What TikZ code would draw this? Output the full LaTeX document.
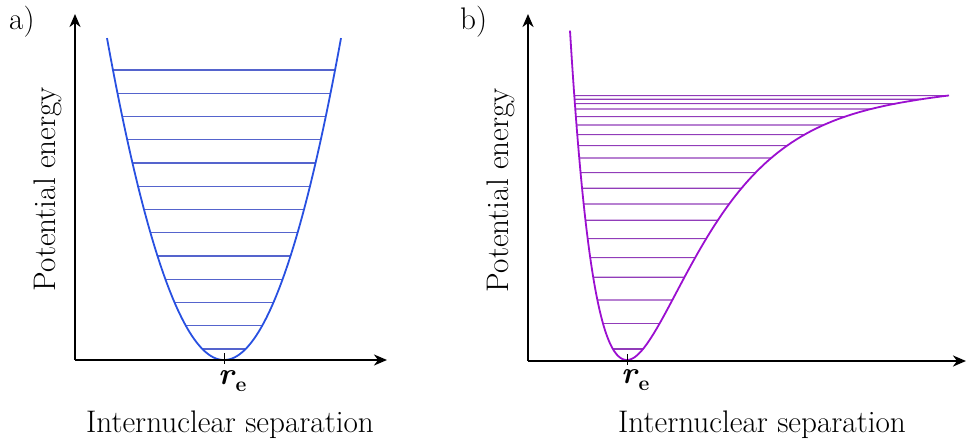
\documentclass[tikz,border=0pt]{standalone}
\usepackage{fontspec}
\usetikzlibrary{arrows.meta,intersections}
\definecolor{cblue}{RGB}{40,80,225}
\definecolor{cpurp}{RGB}{155,15,208}
\definecolor{lblue}{RGB}{85,100,205}
\definecolor{lpurp}{RGB}{145,60,185}
\begin{document}
\begin{tikzpicture}[x=1pt,y=-1pt,
  axis/.style={line width=2.4pt,-{Stealth[length=13pt,width=11pt,inset=4pt]}},
  curvea/.style={draw=cblue,line width=1.8pt},
  curveb/.style={draw=cpurp,line width=1.8pt},
  lvla/.style={draw=lblue,line width=1.1pt},
  lvlb/.style={draw=lpurp,line width=1.1pt},
  tick/.style={draw=black,line width=1pt},
  lbl/.style={font=\rmfamily\fontsize{31.2}{36}\selectfont,inner sep=0pt},
  sub/.style={font=\rmfamily\fontsize{31}{36}\selectfont,inner sep=0pt},
  declare function={
    pa(\x)=360-0.02352*(\x-224)*(\x-224);
    ml(\x)=360-266*(1-exp(-0.01313*(\x-627)))*(1-exp(-0.01313*(\x-627)));
    mr(\x)=360-266*(1-exp(-0.0142*(\x-627)))*(1-exp(-0.0142*(\x-627)))-4*((\x-627)/322)^4;
  }]
\useasboundingbox (0,0) rectangle (966,446);

% ---------------- panel a ----------------
\coordinate (oa) at (75,360);
\coordinate (ya) at (75,14);
\coordinate (xa) at (387,360);
\coordinate (ta1) at (224,353);
\coordinate (ta2) at (224,364);

\foreach \k in {0,...,12}{
  \pgfmathsetmacro\yy{349-23.25*\k}
  \pgfmathsetmacro\hw{sqrt((360-\yy)/0.02352)}
  \draw[lvla] ({224-\hw},\yy) -- ({224+\hw},\yy);
}
\draw[curvea] plot[domain=107:341,samples=120] (\x,{pa(\x)});
\draw[axis] (oa) -- (ya);
\draw[axis] (oa) -- (xa);
\draw[tick] (ta1) -- (ta2);

\node[lbl,anchor=base west] (la) at (9,30) {a)};
\node[lbl,anchor=base,rotate=90] (pea) at (55,189) {Potential energy};
\node[lbl,anchor=base] (isa) at (230,432) {Internuclear separation};
\node[sub,anchor=base west] (rea) at (218,384) {\textbf{\textit{r}}\raisebox{-7pt}{\fontsize{21}{24}\selectfont\textbf{e}}};

% ---------------- panel b ----------------
\coordinate (ob) at (528,361);
\coordinate (yb) at (528,14);
\coordinate (xb) at (966,361);
\coordinate (tb1) at (627,354);
\coordinate (tb2) at (627,365);

\path[name path=morse] plot[domain=570:627,samples=60] (\x,{ml(\x)})
   -- plot[domain=627:949,samples=160] (\x,{mr(\x)});
\foreach \yy [count=\i] in {95.7,99.3,103.7,109,116.7,125,134.7,145.7,158,172.7,188.3,204,220.3,238.7,257.7,277.3,300,323.7,349}{
  \path[name path=lv] (540,\yy) -- (962,\yy);
  \path[name intersections={of=morse and lv,name=pb\i,total=\t}]
     \pgfextra{\xdef\tot{\t}};
  \draw[lvlb] (pb\i-1) -- (pb\i-\tot);
}
\draw[curveb] plot[domain=570:627,samples=60] (\x,{ml(\x)})
   -- plot[domain=627:949,samples=160] (\x,{mr(\x)});
\draw[axis] (ob) -- (yb);
\draw[axis] (ob) -- (xb);
\draw[tick] (tb1) -- (tb2);

\node[lbl,anchor=base west] (lb) at (460,30) {b)};
\node[lbl,anchor=base,rotate=90] (peb) at (508,190) {Potential energy};
\node[lbl,anchor=base] (isb) at (762,432) {Internuclear separation};
\node[sub,anchor=base west] (reb) at (621,383) {\textbf{\textit{r}}\raisebox{-7pt}{\fontsize{21}{24}\selectfont\textbf{e}}};
\end{tikzpicture}
\end{document}
